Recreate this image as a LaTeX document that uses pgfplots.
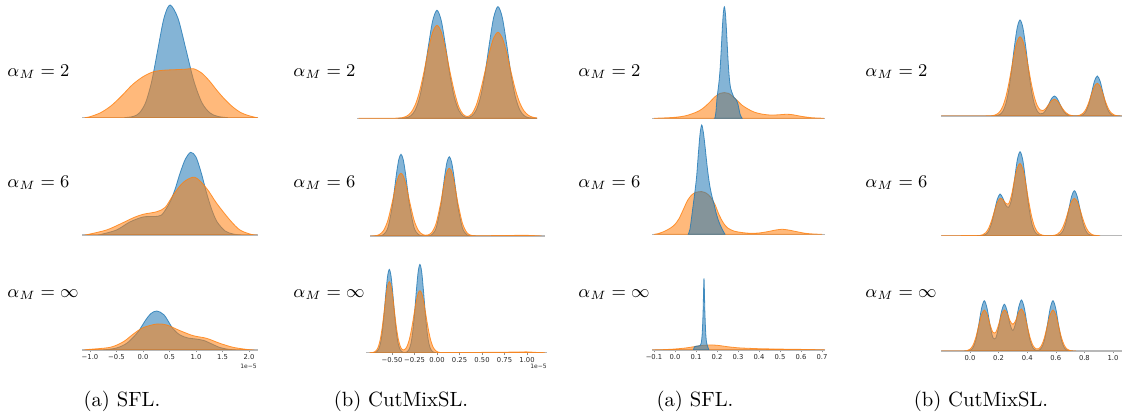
\documentclass[border=0pt]{standalone}
\usepackage{fontspec}
\usepackage{pgfplots}
\pgfplotsset{compat=1.18}
\newfontfamily\dejavu{DejaVu Sans}
\definecolor{cb}{RGB}{31,119,180}
\definecolor{co}{RGB}{255,127,14}
\newcommand\tkfont{\dejavu\fontsize{3.4}{3.7}\selectfont}
\newcommand\offont{\dejavu\fontsize{3.0}{3.2}\selectfont}
\newcommand\lbfont{\fontsize{9}{10}\selectfont}
\newcommand\capfont{\fontsize{10.3}{12}\selectfont}
\pgfplotsset{
  kb/.style={smooth, fill=cb, fill opacity=0.55, draw=cb, draw opacity=0.8, line width=0.4pt},
  ko/.style={smooth, fill=co, fill opacity=0.55, draw=co, draw opacity=0.8, line width=0.4pt},
  panel/.style={anchor=south west, scale only axis, height=57.5pt, ymin=0, ymax=115,
    axis x line=bottom, axis y line=none, axis line style={-, draw=black!28, line width=0.6pt},
    xtick=\empty, ytick=\empty},
  ticked/.style={tick align=outside, major tick length=1.2pt, tick style={black!45, line width=0.3pt},
    xticklabel style={font=\tkfont, text=black!85, inner sep=0.8pt}},
}
\begin{document}
\begin{tikzpicture}[x=0.5pt,y=0.5pt]
\useasboundingbox (0,0) rectangle (1122,416);
% ---------------- column 1 : (a) SFL ----------------
\begin{axis}[panel, at={(41pt,149.15pt)}, width=88pt, xmin=-1.151, xmax=2.170]
\addplot[kb] coordinates {(-0.35,0) (-0.18,1.3) (-0.065,4.9) (0.05,15.2) (0.165,36.6) (0.28,68.4) (0.395,99.5) (0.51,112.7) (0.66,99.5) (0.81,68.4) (0.96,36.6) (1.11,15.2) (1.26,4.9) (1.41,1.3) (1.6,0)} \closedcycle;
\addplot[ko] coordinates {(-1.1,0) (-1.0,1) (-0.8,5) (-0.6,12) (-0.4,22) (-0.2,33) (0.0,41) (0.2,46) (0.4,47.5) (0.6,48) (0.8,48.5) (0.95,49) (1.1,45) (1.25,37) (1.4,27) (1.55,18) (1.7,10.5) (1.85,5) (2.0,2) (2.15,0)} \closedcycle;
\end{axis}
\begin{axis}[panel, at={(41pt,90.5pt)}, width=88pt, xmin=-1.151, xmax=2.170]
\addplot[kb] coordinates {(-0.85,0) (-0.8,0.5) (-0.5,5) (-0.25,13) (0.0,18) (0.2,18.5) (0.35,20) (0.5,32) (0.6,45) (0.7,62) (0.8,76) (0.9,82.7) (1.0,78) (1.1,62) (1.2,42) (1.3,25) (1.4,13) (1.55,4) (1.7,1) (1.85,0)} \closedcycle;
\addplot[ko] coordinates {(-1.1,0) (-1.04,0.5) (-0.69,5) (-0.43,11) (-0.18,17.3) (0.0,20.7) (0.26,23.3) (0.42,27.7) (0.57,40) (0.76,52.7) (0.98,57.7) (1.2,46.7) (1.39,31.7) (1.64,15) (1.83,5) (2.05,0.5) (2.15,0)} \closedcycle;
\end{axis}
\begin{axis}[panel, ticked, at={(41pt,33pt)}, width=88pt, xmin=-1.151, xmax=2.170,
  xtick={-1,-0.5,0,0.5,1,1.5,2}, xticklabels={−1.0,−0.5,0.0,0.5,1.0,1.5,2.0}]
\addplot[kb] coordinates {(-0.75,0) (-0.5,2) (-0.3,7) (-0.1,17.7) (0.05,30) (0.15,36.5) (0.26,39) (0.4,35) (0.56,21.7) (0.7,15) (0.85,12) (1.0,11) (1.15,9.5) (1.3,6) (1.45,2.5) (1.6,0.8) (1.75,0)} \closedcycle;
\addplot[ko] coordinates {(-1.1,0) (-1.04,0.5) (-0.62,2.7) (-0.37,8.3) (-0.19,15.7) (0.0,22.3) (0.26,26) (0.45,25) (0.7,19.3) (0.95,14.3) (1.2,11.7) (1.45,6.7) (1.7,2.7) (1.97,0.5) (2.1,0)} \closedcycle;
\end{axis}
% ---------------- column 2 : (b) CutMixSL ----------------
\begin{axis}[panel, at={(178.5pt,148.85pt)}, width=90pt, xmin=-0.918, xmax=1.148]
\addplot[kb] coordinates {(-0.45,0) (-0.4,0.14) (-0.35,0.7) (-0.3,2.6) (-0.25,8.2) (-0.2,20.7) (-0.15,42.6) (-0.1,71.4) (-0.05,97.4) (0,108) (0.05,97.4) (0.1,71.4) (0.15,42.6) (0.2,20.7) (0.25,8.0) (0.3,2.2) (0.35,0.8) (0.4,2.4) (0.45,8.2) (0.5,21.4) (0.55,44.1) (0.6,73.9) (0.65,100.7) (0.7,111.7) (0.75,100.7) (0.8,73.9) (0.85,44.1) (0.9,21.4) (0.95,8.4) (1.0,2.7) (1.05,0.7) (1.1,0.15) (1.15,0)} \closedcycle;
\addplot[ko] coordinates {(-0.9,0) (-0.6,0.1) (-0.45,0.18) (-0.4,0.65) (-0.35,2.1) (-0.3,5.7) (-0.25,13.4) (-0.2,26.9) (-0.15,46.3) (-0.1,68.2) (-0.05,86.1) (0,93) (0.05,86.1) (0.1,68.2) (0.15,46.3) (0.2,26.5) (0.25,11.5) (0.3,4.0) (0.35,1.8) (0.4,4.5) (0.45,13.0) (0.5,28.0) (0.55,46.4) (0.6,65.4) (0.65,80.3) (0.7,86) (0.75,80.3) (0.8,65.4) (0.85,46.4) (0.9,28.7) (0.95,15.5) (1.0,7.3) (1.05,3.0) (1.1,1.07) (1.15,0.34) (1.2,0)} \closedcycle;
\end{axis}
\begin{axis}[panel, at={(185pt,90pt)}, width=87.5pt, xmin=-0.753, xmax=1.240]
\addplot[kb] coordinates {(-0.7,0) (-0.65,0.14) (-0.6,1.4) (-0.55,8.2) (-0.5,29.4) (-0.475,46.0) (-0.45,63.3) (-0.425,76.6) (-0.4,81.7) (-0.375,76.6) (-0.35,63.3) (-0.325,46.0) (-0.3,29.4) (-0.25,8.2) (-0.2,1.4) (-0.15,0.14) (-0.1,0.13) (-0.05,1.3) (0,8.0) (0.05,28.6) (0.075,44.6) (0.1,61.5) (0.125,74.4) (0.15,79.3) (0.175,74.4) (0.2,61.5) (0.225,44.6) (0.25,28.6) (0.3,8.0) (0.35,1.3) (0.4,0.13) (0.45,0)} \closedcycle;
\addplot[ko] coordinates {(-0.75,0) (-0.7,0.24) (-0.65,1.3) (-0.6,5.3) (-0.55,15.6) (-0.5,33.8) (-0.475,44.3) (-0.45,53.7) (-0.425,60.3) (-0.4,62.7) (-0.375,60.3) (-0.35,53.7) (-0.325,44.3) (-0.3,33.8) (-0.25,15.6) (-0.2,5.3) (-0.15,1.4) (-0.1,0.9) (-0.05,3.5) (0,12.7) (0.05,32.2) (0.075,44.6) (0.1,56.2) (0.125,64.7) (0.15,67.7) (0.175,64.7) (0.2,56.2) (0.225,44.6) (0.25,32.2) (0.3,12.7) (0.35,3.5) (0.4,0.65) (0.5,0.3) (0.7,0.4) (0.9,0.6) (1.05,0.6) (1.2,0)} \closedcycle;
\end{axis}
\begin{axis}[panel, ticked, at={(183pt,31.65pt)}, width=90.5pt, xmin=-0.789, xmax=1.222,
  xtick={-0.5,-0.25,0,0.25,0.5,0.75,1}, xticklabels={−0.50,−0.25,0.00,0.25,0.50,0.75,1.00}]
\addplot[kb] coordinates {(-0.71,0) (-0.69,0.26) (-0.67,0.98) (-0.65,3.2) (-0.63,8.7) (-0.61,19.6) (-0.59,36.9) (-0.57,58.0) (-0.55,76.1) (-0.53,83.3) (-0.51,76.1) (-0.49,58.0) (-0.47,36.9) (-0.45,19.6) (-0.43,8.7) (-0.41,3.2) (-0.39,0.98) (-0.37,0.34) (-0.35,0.35) (-0.33,1.04) (-0.31,3.4) (-0.29,9.2) (-0.27,20.7) (-0.25,39.1) (-0.23,61.5) (-0.21,80.7) (-0.19,88.3) (-0.17,80.7) (-0.15,61.5) (-0.13,39.1) (-0.11,20.7) (-0.09,9.2) (-0.07,3.4) (-0.05,1.04) (-0.03,0.27) (-0.01,0)} \closedcycle;
\addplot[ko] coordinates {(-0.75,0) (-0.73,0.1) (-0.71,0.33) (-0.69,1.03) (-0.67,2.8) (-0.65,6.6) (-0.63,13.6) (-0.61,24.7) (-0.59,39.2) (-0.57,54.5) (-0.55,66.5) (-0.53,71) (-0.51,66.5) (-0.49,54.5) (-0.47,39.2) (-0.45,24.7) (-0.43,13.7) (-0.41,6.9) (-0.39,3.5) (-0.37,2.7) (-0.35,3.9) (-0.33,7.1) (-0.31,12.5) (-0.29,20.4) (-0.27,30.4) (-0.25,41.5) (-0.23,51.9) (-0.21,59.3) (-0.19,62) (-0.17,59.3) (-0.15,51.9) (-0.13,41.5) (-0.11,30.4) (-0.09,20.4) (-0.07,12.5) (-0.05,7.0) (-0.03,3.6) (-0.01,1.7) (0.01,0.7) (0.03,0.3) (0.1,0.2) (0.5,0.3) (0.85,0.6) (1.0,0.8) (1.1,0.3) (1.2,0)} \closedcycle;
\end{axis}
% ---------------- column 3 : (a) SFL ----------------
\begin{axis}[panel, at={(326pt,148.85pt)}, width=86.5pt, xmin=-0.1095, xmax=0.7143]
\addplot[ko] coordinates {(-0.1,0) (-0.05,0.4) (0.0,1) (0.05,2.5) (0.1,6) (0.13,9.5) (0.16,15) (0.19,21.5) (0.215,25) (0.235,25.7) (0.255,25) (0.28,21) (0.3,17) (0.32,13) (0.35,9) (0.38,6) (0.42,4) (0.46,3.2) (0.5,3.6) (0.53,4) (0.56,3.6) (0.6,2) (0.65,0.6) (0.7,0.1) (0.71,0)} \closedcycle;
\addplot[kb] coordinates {(0.185,0) (0.19,0.2) (0.195,6.7) (0.2,20.1) (0.205,28.6) (0.21,37.5) (0.215,50.2) (0.22,68.4) (0.225,88.6) (0.23,105) (0.235,111.5) (0.24,105) (0.245,88.6) (0.25,68.4) (0.255,50.2) (0.26,37.5) (0.265,30.1) (0.27,26.6) (0.275,23.7) (0.28,21.2) (0.285,20) (0.29,19) (0.295,17) (0.3,14) (0.305,9) (0.31,4) (0.315,1.5) (0.32,0)} \closedcycle;
\end{axis}
\begin{axis}[panel, at={(326pt,90.85pt)}, width=86.5pt, xmin=-0.1095, xmax=0.7143]
\addplot[ko] coordinates {(-0.1,0) (-0.08,0.7) (-0.05,3) (-0.02,6.5) (0.0,10) (0.02,16) (0.04,25) (0.06,34) (0.08,39.5) (0.1,42) (0.127,42.7) (0.15,41) (0.17,37) (0.19,30) (0.21,19.5) (0.23,11.5) (0.25,6.5) (0.28,3.3) (0.32,1.7) (0.36,1) (0.4,1.3) (0.44,2.6) (0.48,4.3) (0.51,5) (0.54,4.3) (0.58,2.6) (0.62,1) (0.66,0.3) (0.7,0)} \closedcycle;
\addplot[kb] coordinates {(0.063,0) (0.071,5) (0.079,17) (0.087,30) (0.095,43) (0.103,58) (0.111,80) (0.119,100) (0.127,109.3) (0.135,102) (0.143,88) (0.151,72) (0.159,58) (0.167,47) (0.176,38) (0.186,30) (0.195,22) (0.205,15) (0.214,10) (0.225,5) (0.238,0)} \closedcycle;
\end{axis}
\begin{axis}[panel, ticked, at={(326pt,33pt)}, width=86.5pt, xmin=-0.1095, xmax=0.7143,
  xtick={-0.1,0,0.1,0.2,0.3,0.4,0.5,0.6,0.7}, xticklabels={−0.1,0.0,0.1,0.2,0.3,0.4,0.5,0.6,0.7}]
\addplot[ko] coordinates {(-0.11,0) (-0.05,0.4) (0.0,1) (0.05,2) (0.09,3.3) (0.12,4.3) (0.15,4.9) (0.18,5) (0.21,4.5) (0.25,3.3) (0.3,2.2) (0.35,1.7) (0.4,1.3) (0.5,0.9) (0.6,0.6) (0.7,0.2) (0.71,0)} \closedcycle;
\addplot[kb] coordinates {(0.088,0) (0.092,3) (0.1,3.8) (0.11,4) (0.12,4.5) (0.125,7) (0.13,18) (0.134,40) (0.138,71.7) (0.142,40) (0.146,18) (0.15,8) (0.155,4) (0.158,2) (0.162,0)} \closedcycle;
\end{axis}
% ---------------- column 4 : (b) CutMixSL ----------------
\begin{axis}[panel, at={(470.5pt,150pt)}, width=90.5pt, xmin=-0.2028, xmax=1.063]
\addplot[kb] coordinates {(0.15,0) (0.17,0.12) (0.19,0.46) (0.21,1.6) (0.23,4.8) (0.25,12.0) (0.27,25.3) (0.29,45.4) (0.31,68.8) (0.33,88.3) (0.35,96) (0.37,88.3) (0.39,68.8) (0.41,45.4) (0.43,25.3) (0.45,12.0) (0.47,4.9) (0.49,2.2) (0.51,2.6) (0.53,5.9) (0.55,11.5) (0.57,17.4) (0.59,20) (0.61,17.4) (0.63,11.5) (0.65,5.75) (0.67,2.18) (0.69,0.63) (0.71,0.14) (0.73,0.02) (0.75,0.04) (0.77,0.27) (0.79,1.25) (0.81,4.4) (0.83,11.5) (0.85,23.0) (0.87,34.8) (0.89,40) (0.91,34.8) (0.93,23.0) (0.95,11.5) (0.97,4.4) (0.99,1.25) (1.01,0.27) (1.03,0.04) (1.05,0)} \closedcycle;
\addplot[ko] coordinates {(-0.2,0) (0.13,0.1) (0.15,0.25) (0.17,0.76) (0.19,2.0) (0.21,4.75) (0.23,10.0) (0.25,18.9) (0.27,31.6) (0.29,47.3) (0.31,63.0) (0.33,74.9) (0.35,79.3) (0.37,74.9) (0.39,63.0) (0.41,47.3) (0.43,31.6) (0.45,19.0) (0.47,10.5) (0.49,6.2) (0.51,5.4) (0.53,7.6) (0.55,11.5) (0.57,15.1) (0.59,16.7) (0.61,15.1) (0.63,11.25) (0.65,6.86) (0.67,3.44) (0.69,1.41) (0.71,0.49) (0.73,0.19) (0.75,0.26) (0.77,0.94) (0.79,2.77) (0.81,6.7) (0.83,13.4) (0.85,22.0) (0.87,29.6) (0.89,32.7) (0.91,29.6) (0.93,22.0) (0.95,13.4) (0.97,6.7) (0.99,2.77) (1.01,0.94) (1.03,0.26) (1.05,0.06) (1.06,0)} \closedcycle;
\end{axis}
\begin{axis}[panel, at={(470.5pt,90.15pt)}, width=90.5pt, xmin=-0.2028, xmax=1.063]
\addplot[kb] coordinates {(0.05,0) (0.07,0.05) (0.09,0.28) (0.11,1.3) (0.13,4.5) (0.15,11.9) (0.17,23.8) (0.19,36.1) (0.21,41.7) (0.23,37.5) (0.25,30.5) (0.27,28.5) (0.29,36.0) (0.31,54.7) (0.33,75.3) (0.35,84) (0.37,75.0) (0.39,53.4) (0.41,30.3) (0.43,13.7) (0.45,4.9) (0.47,1.42) (0.49,0.33) (0.51,0.06) (0.53,0) (0.57,0) (0.59,0.05) (0.61,0.31) (0.63,1.41) (0.65,4.9) (0.67,12.9) (0.69,25.9) (0.71,39.2) (0.73,45) (0.75,39.2) (0.77,25.9) (0.79,12.9) (0.81,4.9) (0.83,1.41) (0.85,0.31) (0.87,0.05) (0.89,0)} \closedcycle;
\addplot[ko] coordinates {(-0.2,0) (0.05,0.1) (0.07,0.28) (0.09,1.03) (0.11,3.04) (0.13,7.4) (0.15,14.8) (0.17,24.3) (0.19,32.9) (0.21,37.3) (0.23,36.0) (0.25,32.5) (0.27,32.0) (0.29,40.5) (0.31,55.3) (0.33,67.5) (0.35,72.3) (0.37,66.5) (0.39,52.3) (0.41,35.0) (0.43,20.0) (0.45,9.7) (0.47,4.0) (0.49,1.43) (0.51,0.43) (0.53,0.1) (0.55,0.03) (0.57,0.12) (0.59,0.44) (0.61,1.43) (0.63,3.88) (0.65,8.76) (0.67,16.5) (0.69,26.0) (0.71,34.1) (0.73,37.3) (0.75,34.1) (0.77,26.0) (0.79,16.5) (0.81,8.76) (0.83,3.88) (0.85,1.43) (0.87,0.44) (0.89,0.12) (0.91,0)} \closedcycle;
\end{axis}
\begin{axis}[panel, ticked, at={(470.5pt,32.5pt)}, width=90.5pt, xmin=-0.2028, xmax=1.063,
  xtick={0,0.2,0.4,0.6,0.8,1.0}, xticklabels={0.0,0.2,0.4,0.6,0.8,1.0}]
\addplot[kb] coordinates {(-0.04,0) (-0.02,0.1) (0.00,0.66) (0.02,3.16) (0.04,10.6) (0.06,25.2) (0.08,42.3) (0.10,50.3) (0.12,42.3) (0.14,25.8) (0.16,13.5) (0.18,13.0) (0.20,24.0) (0.22,39.4) (0.24,46.8) (0.26,40.0) (0.28,26.6) (0.30,20.6) (0.32,28.4) (0.34,43.5) (0.36,51) (0.38,42.9) (0.40,25.5) (0.42,10.7) (0.44,3.2) (0.46,0.77) (0.48,0.76) (0.50,3.16) (0.52,10.6) (0.54,25.2) (0.56,42.3) (0.58,50.3) (0.60,42.3) (0.62,25.2) (0.64,10.6) (0.66,3.16) (0.68,0.66) (0.70,0.1) (0.72,0)} \closedcycle;
\addplot[ko] coordinates {(-0.2,0) (-0.04,0.09) (-0.02,0.45) (0.00,1.80) (0.02,5.53) (0.04,13.3) (0.06,24.8) (0.08,36.1) (0.10,41.0) (0.12,36.6) (0.14,26.6) (0.16,18.8) (0.18,18.7) (0.20,26.4) (0.22,36.3) (0.24,41.1) (0.26,37.6) (0.28,30.2) (0.30,26.7) (0.32,30.7) (0.34,38.5) (0.36,42.0) (0.38,36.8) (0.40,25.2) (0.42,13.5) (0.44,5.7) (0.46,2.3) (0.48,2.3) (0.50,5.6) (0.52,13.3) (0.54,24.9) (0.56,36.2) (0.58,41) (0.60,36.2) (0.62,24.9) (0.64,13.3) (0.66,5.55) (0.68,1.80) (0.70,0.45) (0.72,0.09) (0.74,0)} \closedcycle;
\end{axis}
% ---------------- offset texts ----------------
\node[anchor=east, font=\offont, text=black!85, inner sep=0pt] at (257,50) {1e−5};
\node[anchor=east, font=\offont, text=black!85, inner sep=0pt] at (547,50) {1e−5};
% ---------------- row labels ----------------
\foreach \lx in {7,293,578,865}{
  \node[anchor=west, inner sep=0pt, font=\lbfont] at (\lx,344) {$\alpha_M = 2$};
  \node[anchor=west, inner sep=0pt, font=\lbfont] at (\lx,233) {$\alpha_M = 6$};
  \node[anchor=west, inner sep=0pt, font=\lbfont] at (\lx,121) {$\alpha_M = \infty$};
}
% ---------------- captions ----------------
\node[anchor=base, font=\capfont, inner sep=0pt] at (122,9) {(a) SFL.};
\node[anchor=base, font=\capfont, inner sep=0pt] at (401,9) {(b) CutMixSL.};
\node[anchor=base, font=\capfont, inner sep=0pt] at (695,9) {(a) SFL.};
\node[anchor=base, font=\capfont, inner sep=0pt] at (981,9) {(b) CutMixSL.};
\end{tikzpicture}
\end{document}
